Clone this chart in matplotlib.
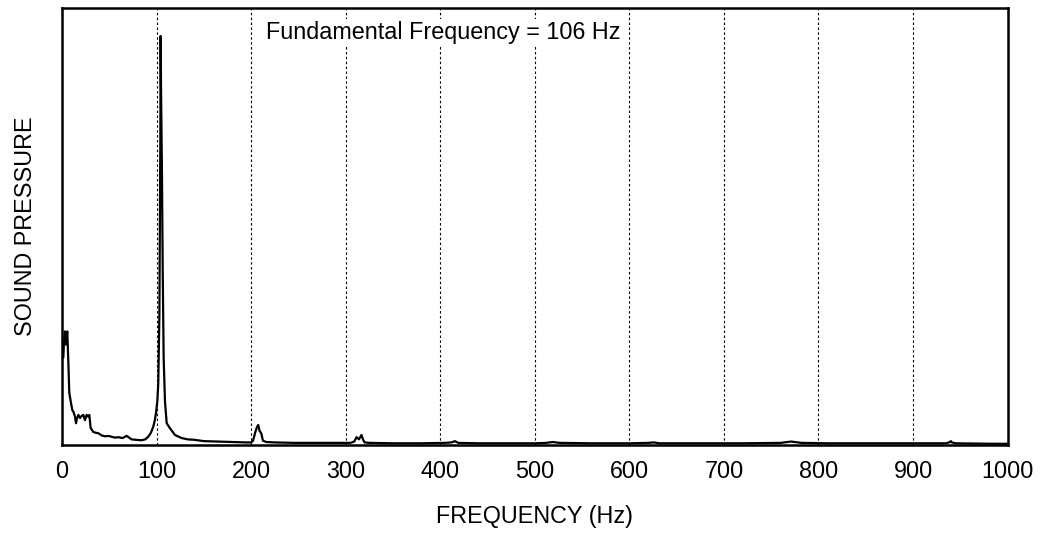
import matplotlib.pyplot as plt
import numpy as np

# spectrum (frequency in Hz, relative amplitude)
freq = [0, 1.4, 2.2, 3.2, 4.2, 5.0, 5.6, 6.7, 7.7, 9.2, 10.9, 12.3, 13.7, 14.8,
        16.0, 17.3, 19.0, 20.5, 22.5, 24.3, 26.0, 27.8, 28.9, 30.3, 33.1, 36.0,
        38.4, 42.0, 45.5, 49.0, 52.5, 56.0, 59.5, 64.0, 68.4, 73.6, 78.0, 84.2,
        88.0, 91.2, 94.0, 96.5, 98.0, 99.4, 100.8, 101.8, 103.0, 104.0, 104.3,
        104.8, 105.7, 106.5, 107.5, 108.9, 110.7, 114.0, 119.5, 126.5, 133.0,
        140.0, 150.0, 165.0, 180.0, 195.0, 200.0, 202.0, 204.5, 206.0, 207.5,
        209.0, 210.7, 212.5, 216.0, 225.0, 245.0, 270.0, 290.0, 305.0, 309.0,
        311.5, 314.0, 316.7, 318.5, 320.0, 325.0, 350.0, 380.0, 405.0, 412.0,
        415.5, 419.0, 440.0, 470.0, 500.0, 512.0, 519.0, 526.0, 560.0, 600.0,
        620.0, 626.0, 632.0, 670.0, 720.0, 760.0, 771.0, 782.0, 810.0, 850.0,
        900.0, 935.0, 939.0, 940.0, 941.0, 945.0, 980.0, 1000.0]
amplitude = [0.20, 0.20, 0.24, 0.26, 0.23, 0.25, 0.26, 0.19, 0.12, 0.10, 0.08,
             0.075, 0.065, 0.05, 0.062, 0.069, 0.062, 0.066, 0.069, 0.057,
             0.069, 0.065, 0.069, 0.039, 0.030, 0.028, 0.027, 0.022, 0.020,
             0.021, 0.019, 0.017, 0.018, 0.016, 0.021, 0.013, 0.012, 0.011,
             0.013, 0.019, 0.028, 0.042, 0.055, 0.073, 0.10, 0.14, 0.30, 0.70,
             0.936, 0.80, 0.625, 0.40, 0.20, 0.10, 0.05, 0.039, 0.023, 0.016,
             0.013, 0.012, 0.009, 0.008, 0.007, 0.006, 0.006, 0.010, 0.030,
             0.040, 0.046, 0.032, 0.027, 0.010, 0.007, 0.006, 0.005, 0.005,
             0.005, 0.005, 0.008, 0.018, 0.013, 0.023, 0.012, 0.006, 0.005,
             0.004, 0.004, 0.005, 0.006, 0.009, 0.005, 0.004, 0.004, 0.004,
             0.005, 0.007, 0.005, 0.004, 0.004, 0.005, 0.006, 0.004, 0.004,
             0.004, 0.005, 0.008, 0.005, 0.004, 0.004, 0.004, 0.004, 0.007,
             0.009, 0.006, 0.004, 0.003, 0.003]

plt.rcParams['font.family'] = ['Liberation Sans', 'DejaVu Sans']
fs = 16.8

fig, ax = plt.subplots(figsize=(10.42, 5.33), dpi=100)
fig.subplots_adjust(left=0.0595, right=0.967, top=0.985, bottom=0.165)

ax.plot(freq, amplitude, color='black', linewidth=1.6)

ax.set_xlim(0, 1000)
ax.set_ylim(0, 1.0)
ax.set_xticks(np.arange(0, 1001, 100))
ax.set_yticks([])
ax.tick_params(axis='x', length=0, pad=10.5, labelsize=fs)
ax.xaxis.grid(True, color='black', linestyle=(0, (2.2, 2.2)), linewidth=0.8)

for spine in ax.spines.values():
    spine.set_linewidth(1.8)

ax.set_xlabel('FREQUENCY (Hz)', fontsize=fs, labelpad=16)
ax.set_ylabel('SOUND PRESSURE', fontsize=fs, labelpad=18)

ax.text(215.6, 0.945, 'Fundamental Frequency = 106 Hz', fontsize=fs,
        ha='left', va='center',
        bbox=dict(facecolor='white', edgecolor='none', pad=1))

fig.savefig('out.png', dpi=100)
